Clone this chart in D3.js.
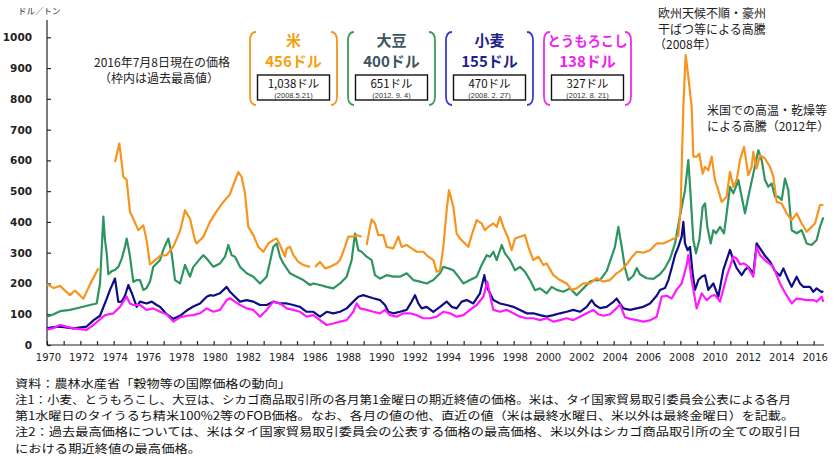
<!DOCTYPE html>
<html><head><meta charset="utf-8">
<script src="https://cdn.jsdelivr.net/npm/d3@7"></script>
<style>
html,body{margin:0;padding:0;background:#fff;}
svg{display:block;}
</style></head>
<body>
<svg id="chart" width="840" height="459"></svg>
<script>
// ---- DATA ----
const yTicks = [0,100,200,300,400,500,600,700,800,900,1000];
const xTickYears = d3.range(1970, 2017);
const xLabelYears = d3.range(1970, 2017, 2);

// [year (decimal), US$/t]; null = no data
const riceData = [
[1970.0,198],[1970.4,185],[1970.78,192],[1971.38,162],[1971.68,177],[1972.18,150],[1972.58,197],[1973.08,249],[1973.1,null],
[1974.08,595],[1974.34,655],[1974.58,547],[1974.78,536],[1974.98,432],[1975.18,410],[1975.48,373],[1975.78,389],[1975.98,340],[1976.18,262],[1976.38,270],
[1976.78,290],[1977.18,292],[1977.58,320],[1977.98,370],[1978.28,438],[1978.58,410],[1978.88,340],[1978.98,330],[1979.38,352],[1979.78,400],
[1980.18,435],[1980.58,465],[1980.98,490],[1981.18,520],[1981.48,562],[1981.68,546],[1981.88,492],[1982.08,384],[1982.38,357],[1982.68,319],
[1982.98,303],[1983.28,330],[1983.58,341],[1983.78,346],[1983.98,325],[1984.28,287],[1984.38,314],[1984.58,319],[1984.78,292],[1985.08,270],
[1985.38,260],[1985.78,254],[1985.9,null],[1986.08,254],[1986.38,270],[1986.68,249],[1986.98,254],[1987.38,265],[1987.58,276],[1987.88,319],
[1988.08,352],[1988.38,352],[1988.58,357],[1988.88,352],[1989.0,null],[1989.18,325],[1989.38,384],[1989.48,408],[1989.68,395],[1989.88,357],
[1990.18,357],[1990.38,319],[1990.78,314],[1991.08,352],[1991.28,319],[1991.58,325],[1991.88,314],[1992.18,303],[1992.58,303],[1992.88,287],
[1993.18,276],[1993.38,238],[1993.58,243],[1993.78,319],[1993.98,438],[1994.12,503],[1994.38,449],[1994.58,362],[1994.78,346],[1995.08,330],
[1995.28,319],[1995.48,357],[1995.78,406],[1996.08,395],[1996.28,373],[1996.48,384],[1996.78,395],[1996.98,384],[1997.18,417],[1997.38,384],
[1997.68,346],[1997.88,308],[1998.08,346],[1998.38,352],[1998.68,357],[1998.88,319],[1999.18,276],[1999.48,287],[1999.78,260],[1999.98,265],
[2000.38,227],[2000.78,211],[2001.18,200],[2001.48,179],[2001.78,184],[2002.18,200],[2002.58,200],[2002.98,217],[2003.38,206],[2003.78,211],
[2004.18,233],[2004.48,244],[2004.78,262],[2005.08,285],[2005.38,303],[2005.78,300],[2006.18,308],[2006.58,330],[2006.98,330],[2007.38,340],
[2007.68,348],[2007.88,355],[2008.02,449],[2008.18,774],[2008.32,942],[2008.48,871],[2008.68,774],[2008.78,612],[2008.98,612],[2009.14,622],
[2009.34,557],[2009.48,579],[2009.68,568],[2009.88,612],[2010.08,536],[2010.28,503],[2010.48,465],[2010.78,482],[2010.98,563],[2011.18,514],
[2011.38,536],[2011.58,601],[2011.82,644],[2012.08,552],[2012.28,579],[2012.38,628],[2012.58,574],[2012.78,617],[2013.08,606],[2013.38,579],
[2013.58,547],[2013.78,465],[2014.08,460],[2014.38,428],[2014.68,406],[2014.98,428],[2015.28,395],[2015.58,368],[2015.78,379],[2016.08,395],
[2016.38,455],[2016.58,455]
];
const soyData = [
[1970.0,92],[1970.4,100],[1970.78,110],[1971.38,114],[1971.98,122],[1972.58,130],[1972.98,135],[1973.18,200],[1973.38,417],[1973.48,340],
[1973.58,300],[1973.68,230],[1973.88,240],[1974.08,244],[1974.28,254],[1974.48,280],[1974.68,319],[1974.78,346],[1974.88,319],[1974.98,287],
[1975.18,205],[1975.38,211],[1975.58,211],[1975.78,179],[1975.98,185],[1976.18,206],[1976.38,254],[1976.58,265],[1976.78,276],[1976.98,310],
[1977.28,346],[1977.48,297],[1977.68,211],[1977.98,200],[1978.28,260],[1978.58,222],[1978.78,254],[1979.18,280],[1979.38,292],[1979.58,281],[1979.98,254],
[1980.38,265],[1980.68,287],[1980.88,325],[1981.08,292],[1981.28,287],[1981.58,254],[1981.98,233],[1982.38,222],[1982.78,200],[1983.18,222],
[1983.58,319],[1983.78,330],[1983.98,287],[1984.18,265],[1984.58,233],[1984.98,222],[1985.38,211],[1985.78,195],[1985.98,200],[1986.38,195],
[1986.78,189],[1987.18,184],[1987.58,200],[1987.98,222],[1988.28,276],[1988.48,362],[1988.68,308],[1988.88,303],[1989.18,287],[1989.48,276],
[1989.68,227],[1989.98,216],[1990.38,227],[1990.78,222],[1991.18,222],[1991.58,233],[1991.98,211],[1992.38,206],[1992.78,200],[1993.18,211],
[1993.58,233],[1993.78,254],[1994.08,249],[1994.38,243],[1994.68,222],[1994.98,200],[1995.38,211],[1995.78,222],[1996.08,260],[1996.38,292],
[1996.58,287],[1996.78,303],[1996.98,276],[1997.18,308],[1997.28,325],[1997.48,298],[1997.78,276],[1998.08,243],[1998.38,254],[1998.68,238],
[1998.98,211],[1999.28,178],[1999.58,184],[1999.98,168],[2000.28,189],[2000.58,179],[2000.98,173],[2001.38,184],[2001.78,162],[2002.18,184],
[2002.58,206],[2002.88,211],[2003.18,211],[2003.58,240],[2003.88,287],[2004.08,320],[2004.28,384],[2004.48,320],[2004.68,250],[2004.88,211],
[2005.18,225],[2005.38,250],[2005.58,230],[2005.98,217],[2006.38,215],[2006.78,230],[2007.08,250],[2007.38,280],[2007.68,330],[2007.98,420],
[2008.28,503],[2008.48,601],[2008.62,482],[2008.78,341],[2008.94,298],[2009.14,341],[2009.34,449],[2009.48,460],[2009.62,384],[2009.82,330],
[2009.98,373],[2010.14,363],[2010.38,384],[2010.62,363],[2010.78,428],[2010.98,514],[2011.18,493],[2011.48,536],[2011.68,482],[2011.88,428],
[2012.08,482],[2012.38,557],[2012.68,633],[2012.88,601],[2013.08,536],[2013.28,514],[2013.48,525],[2013.68,482],[2013.88,482],[2014.08,471],
[2014.28,541],[2014.48,503],[2014.68,373],[2014.98,363],[2015.28,373],[2015.58,330],[2015.88,325],[2016.18,341],[2016.38,384],[2016.58,415]
];
const wheatData = [
[1970.0,54],[1970.4,58],[1970.78,60],[1971.58,54],[1972.38,60],[1972.78,80],[1973.18,95],[1973.58,150],[1973.78,179],[1974.08,216],
[1974.28,140],[1974.48,141],[1974.68,160],[1974.88,195],[1975.08,170],[1975.38,124],[1975.58,141],[1975.98,135],[1976.28,141],[1976.58,130],
[1976.78,124],[1977.18,100],[1977.58,85],[1977.98,95],[1978.38,112],[1978.78,125],[1979.18,135],[1979.58,157],[1979.78,162],[1979.98,160],
[1980.38,168],[1980.78,189],[1980.98,173],[1981.28,157],[1981.58,141],[1981.98,146],[1982.38,141],[1982.78,130],[1983.18,130],[1983.58,141],
[1983.98,135],[1984.38,135],[1984.78,130],[1985.18,124],[1985.58,108],[1985.98,108],[1986.38,92],[1986.78,108],[1987.18,103],[1987.58,108],
[1987.98,119],[1988.38,141],[1988.68,157],[1988.98,162],[1989.28,157],[1989.58,152],[1989.98,146],[1990.28,130],[1990.48,108],[1990.78,103],
[1991.18,108],[1991.58,114],[1991.88,141],[1992.08,162],[1992.28,135],[1992.48,119],[1992.78,124],[1993.18,108],[1993.58,124],[1993.98,141],
[1994.28,124],[1994.58,119],[1994.88,141],[1995.18,146],[1995.58,135],[1995.98,168],[1996.24,227],[1996.38,189],[1996.58,168],[1996.78,146],
[1997.18,135],[1997.58,130],[1997.98,124],[1998.38,114],[1998.78,103],[1999.18,103],[1999.58,97],[1999.98,92],[2000.38,97],[2000.78,103],
[2001.18,108],[2001.58,114],[2001.98,108],[2002.38,124],[2002.68,146],[2002.88,130],[2003.18,120],[2003.58,124],[2003.98,140],[2004.18,151],
[2004.58,119],[2004.98,114],[2005.38,119],[2005.78,124],[2006.18,135],[2006.58,160],[2006.78,179],[2007.08,185],[2007.28,211],[2007.48,250],
[2007.68,292],[2007.88,319],[2008.08,352],[2008.18,400],[2008.28,330],[2008.44,308],[2008.58,319],[2008.74,233],[2008.88,179],[2009.08,211],
[2009.28,222],[2009.48,227],[2009.68,179],[2009.98,200],[2010.28,157],[2010.58,244],[2010.98,309],[2011.18,276],[2011.38,250],[2011.68,227],
[2011.88,244],[2012.08,254],[2012.38,233],[2012.58,330],[2012.78,314],[2013.08,290],[2013.38,271],[2013.68,240],[2013.98,225],[2014.18,249],
[2014.48,211],[2014.68,189],[2014.98,222],[2015.18,200],[2015.38,189],[2015.78,189],[2015.98,173],[2016.18,184],[2016.48,172],[2016.58,175]
];
const cornData = [
[1970.0,50],[1970.4,55],[1970.78,65],[1971.58,54],[1972.38,49],[1972.78,65],[1973.48,97],[1973.98,103],[1974.38,124],[1974.58,141],
[1974.78,157],[1974.98,135],[1975.18,130],[1975.58,130],[1975.98,114],[1976.38,119],[1976.78,108],[1977.18,100],[1977.58,76],
[1977.98,90],[1978.38,95],[1978.78,97],[1979.18,103],[1979.58,119],[1979.98,108],[1980.38,114],[1980.78,146],[1980.98,152],[1981.28,141],
[1981.58,130],[1981.98,119],[1982.38,114],[1982.78,92],[1983.18,114],[1983.58,141],[1983.98,135],[1984.38,119],[1984.78,114],[1985.18,108],
[1985.58,92],[1985.98,97],[1986.38,81],[1986.78,65],[1987.18,70],[1987.58,76],[1987.98,81],[1988.38,108],[1988.58,135],[1988.78,119],
[1989.18,114],[1989.58,108],[1989.98,103],[1990.28,114],[1990.58,97],[1990.98,92],[1991.38,103],[1991.78,103],[1992.18,97],[1992.58,87],
[1992.98,87],[1993.38,92],[1993.78,108],[1994.18,103],[1994.58,92],[1994.98,97],[1995.38,114],[1995.78,130],[1996.18,157],[1996.42,206],
[1996.58,162],[1996.78,114],[1997.18,108],[1997.58,114],[1997.98,103],[1998.38,92],[1998.78,87],[1999.18,87],[1999.58,81],[1999.98,87],
[2000.38,76],[2000.78,81],[2001.18,87],[2001.58,81],[2001.98,92],[2002.38,103],[2002.78,114],[2003.08,100],[2003.38,95],[2003.78,100],
[2004.18,120],[2004.38,132],[2004.68,90],[2004.98,85],[2005.38,81],[2005.78,76],[2006.18,80],[2006.58,92],[2006.88,157],[2007.18,160],
[2007.48,151],[2007.78,180],[2008.08,200],[2008.38,260],[2008.48,292],[2008.68,211],[2008.98,119],[2009.28,168],[2009.58,146],[2009.88,160],
[2010.08,162],[2010.38,141],[2010.78,222],[2011.18,287],[2011.38,281],[2011.58,262],[2011.78,265],[2011.98,260],[2012.38,222],
[2012.58,319],[2012.78,292],[2013.08,276],[2013.58,254],[2013.98,200],[2014.28,170],[2014.68,135],[2014.98,151],[2015.18,150],
[2015.58,146],[2015.98,146],[2016.18,141],[2016.48,157],[2016.58,140]
];

const legendNames = ["米","大豆","小麦","とうもろこし"];
const legendNow = ["456ドル","400ドル","155ドル","138ドル"];
const legendMax = ["1,038ドル","651ドル","470ドル","327ドル"];
const legendMaxDate = ["(2008.5.21)","(2012. 9. 4)","(2008. 2. 27)","(2012. 8. 21)"];
const notes = [
"資料：農林水産省「穀物等の国際価格の動向」",
"注1：小麦、とうもろこし、大豆は、シカゴ商品取引所の各月第1金曜日の期近終値の価格。米は、タイ国家貿易取引委員会公表による各月",
"第1水曜日のタイうるち精米100%2等のFOB価格。なお、各月の値の他、直近の値（米は最終水曜日、米以外は最終金曜日）を記載。",
"注2：過去最高価格については、米はタイ国家貿易取引委員会の公表する価格の最高価格、米以外はシカゴ商品取引所の全ての取引日",
"における期近終値の最高価格。"
];

// ---- STYLE ----
const lineColors = {rice:"#f7941d", soy:"#2e9460", wheat:"#0d0d85", corn:"#ff1aff"};
const legendTitleColors = ["#f5a10f","#3d5560","#1f1f8f","#f01ef0"];
const legendBracketColors = ["#f7941d","#3a9a5a","#3b3bd0","#ee2cee"];
const jp = "'Noto Sans CJK JP','Noto Sans',sans-serif";

const svg = d3.select("#chart");
const x = d3.scaleLinear().domain([1970, 2016.62]).range([47, 824]);
const y = d3.scaleLinear().domain([0, 1000]).range([345, 37.3]);

// axes
const yAxis = d3.axisRight(y).tickValues(yTicks).tickSize(4).tickFormat("");
const gy = svg.append("g").attr("transform","translate(47,0)").call(yAxis);
gy.select(".domain").attr("d","M0,20V345");
gy.selectAll("line,path").attr("stroke","#222").attr("stroke-width",1.2);

svg.append("g").selectAll("text").data(yTicks).join("text")
  .attr("x",32).attr("y",d=>y(d)+4).attr("text-anchor","end")
  .attr("font-family","'DejaVu Sans',sans-serif").attr("font-weight","bold").attr("font-size",10.5)
  .attr("fill","#222").text(d=>d);

const xAxis = d3.axisTop(x).tickValues(xTickYears).tickSize(4).tickFormat("");
const gx = svg.append("g").attr("transform","translate(0,345)").call(xAxis);
gx.select(".domain").attr("d","M47,0H824");
gx.selectAll("line,path").attr("stroke","#222").attr("stroke-width",1.2);

svg.append("g").selectAll("text").data(xLabelYears).join("text")
  .attr("x",d=>x(d)+1.5).attr("y",361).attr("text-anchor","middle")
  .attr("font-family","'DejaVu Sans',sans-serif").attr("font-size",10)
  .attr("fill","#222").text(d=>d);

svg.append("text").attr("x",18).attr("y",14).attr("font-family",jp).attr("font-size",8.5)
  .attr("fill","#333").text("ドル／トン");

// lines
const line = d3.line().defined(d=>d[1]!==null).x(d=>x(d[0])).y(d=>y(d[1]));
[["soy",soyData],["wheat",wheatData],["corn",cornData],["rice",riceData]].forEach(([k,data])=>{
  svg.append("path").datum(data).attr("d",line).attr("fill","none")
    .attr("stroke",lineColors[k]).attr("stroke-width",2.2).attr("stroke-linejoin","round");
});

// legend intro text
svg.append("text").attr("x",162).attr("y",67).attr("text-anchor","middle")
  .attr("font-family",jp).attr("font-size",12).attr("fill","#222").text("2016年7月8日現在の価格");
svg.append("text").attr("x",159).attr("y",83).attr("text-anchor","middle")
  .attr("font-family",jp).attr("font-size",12).attr("fill","#222").text("（枠内は過去最高値）");

// legend boxes
legendNames.forEach((name,i)=>{
  const cx = 293.5 + i*98;
  const l = cx-43.5, r = cx+43.5, t = 32, b = 105, h = 6;
  const g = svg.append("g");
  const bc = legendBracketColors[i];
  g.append("path").attr("d",`M${l+h},${t} Q${l},${t} ${l},${t+9} L${l},${b-9} Q${l},${b} ${l+h},${b}`)
    .attr("fill","none").attr("stroke",bc).attr("stroke-width",1.8);
  g.append("path").attr("d",`M${r-h},${t} Q${r},${t} ${r},${t+9} L${r},${b-9} Q${r},${b} ${r-h},${b}`)
    .attr("fill","none").attr("stroke",bc).attr("stroke-width",1.8);
  const tt = g.append("text").attr("x",cx).attr("y",45.5).attr("text-anchor","middle")
    .attr("font-family",jp).attr("font-weight","bold").attr("font-size",name.length>3?13.5:15)
    .attr("fill",legendTitleColors[i]).text(name);
  if (name.length>3) tt.attr("textLength",80).attr("lengthAdjust","spacingAndGlyphs");
  g.append("text").attr("x",cx).attr("y",66.5).attr("text-anchor","middle")
    .attr("font-family",jp).attr("font-weight","bold").attr("font-size",15)
    .attr("fill",legendTitleColors[i]).text(legendNow[i]);
  g.append("rect").attr("x",cx-36).attr("y",75).attr("width",72).attr("height",25)
    .attr("fill","#fff").attr("stroke","#111").attr("stroke-width",1.4);
  g.append("text").attr("x",cx).attr("y",87.5).attr("text-anchor","middle")
    .attr("font-family",jp).attr("font-size",11.5).attr("fill","#111").text(legendMax[i]);
  g.append("text").attr("x",cx).attr("y",97.5).attr("text-anchor","middle")
    .attr("font-family","'Liberation Sans',sans-serif").attr("font-size",7.5).attr("fill","#333").text(legendMaxDate[i]);
});

// annotations
const ann1 = ["欧州天候不順・豪州","干ばつ等による高騰","（2008年）"];
ann1.forEach((s,i)=>svg.append("text").attr("x",i===2?654:658).attr("y",18+i*15.5)
  .attr("font-family",jp).attr("font-size",12).attr("fill","#222").text(s));
const ann2 = ["米国での高温・乾燥等","による高騰（2012年）"];
ann2.forEach((s,i)=>svg.append("text").attr("x",707).attr("y",115+i*15.5)
  .attr("font-family",jp).attr("font-size",12).attr("fill","#222").text(s));

// notes
const noteWidths = [276, 776, 779, 786, 186];
notes.forEach((s,i)=>svg.append("text").attr("x",15).attr("y",387.5+i*16.3)
  .attr("font-family",jp).attr("font-size",11.2).attr("fill","#111")
  .attr("textLength",noteWidths[i]).attr("lengthAdjust","spacingAndGlyphs").text(s));
</script>
</body></html>
